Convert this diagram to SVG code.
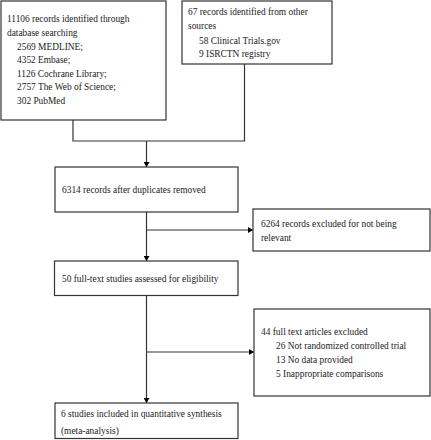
<svg xmlns="http://www.w3.org/2000/svg" width="431" height="440" viewBox="0 0 431 440">
<defs>
<marker id="arr" markerWidth="6" markerHeight="6" refX="5" refY="3" orient="auto" markerUnits="userSpaceOnUse">
<path d="M0,0 L5,3 L0,6 Z" fill="#000"/>
</marker>
<style>
.box{fill:#fff;stroke:#333;stroke-width:1.2}
.t{font-family:"Liberation Serif","Times New Roman",serif;font-size:9.4px;fill:#222}
.ln{fill:none;stroke:#333;stroke-width:1.2}
</style>
</defs>
<rect width="431" height="440" fill="#fff"/>
<g id="connectors">
<path class="ln" d="M73,120 V141 H244.5 V64"/>
<path class="ln" d="M146.5,141 V167" marker-end="url(#arr)"/>
<path class="ln" d="M146.5,212 V261" marker-end="url(#arr)"/>
<path class="ln" d="M146.5,230 H253" marker-end="url(#arr)"/>
<path class="ln" d="M146.5,295.5 V403" marker-end="url(#arr)"/>
<path class="ln" d="M146.5,352 H254" marker-end="url(#arr)"/>
</g>
<g id="db">
<rect class="box" x="1" y="1" width="165" height="119"/>
<text class="t" x="7" y="22">11106 records identified through</text>
<text class="t" x="7" y="36">database searching</text>
<text class="t" x="17" y="49.5">2569 MEDLINE;</text>
<text class="t" x="17" y="63">4352 Embase;</text>
<text class="t" x="17" y="76.5">1126 Cochrane Library;</text>
<text class="t" x="17" y="90">2757 The Web of Science;</text>
<text class="t" x="17" y="103.5">302 PubMed</text>
</g>
<g id="other">
<rect class="box" x="182" y="1" width="150" height="63"/>
<text class="t" x="188" y="15">67 records identified from other</text>
<text class="t" x="188" y="29">sources</text>
<text class="t" x="199" y="44">58 Clinical Trials.gov</text>
<text class="t" x="199" y="57">9 ISRCTN registry</text>
</g>
<g id="dedup">
<rect class="box" x="55" y="167" width="183" height="45"/>
<text class="t" x="62" y="193">6314 records after duplicates removed</text>
</g>
<g id="excl1">
<rect class="box" x="253" y="209" width="177" height="42"/>
<text class="t" x="261" y="227">6264 records excluded for not being</text>
<text class="t" x="261" y="241">relevant</text>
</g>
<g id="fulltext">
<rect class="box" x="54.5" y="261" width="183.5" height="34.5"/>
<text class="t" x="62" y="282">50 full-text studies assessed for eligibility</text>
</g>
<g id="excl2">
<rect class="box" x="254" y="309" width="176" height="87"/>
<text class="t" x="261" y="335">44 full text articles excluded</text>
<text class="t" x="276" y="349">26 Not randomized controlled trial</text>
<text class="t" x="276" y="363">13 No data provided</text>
<text class="t" x="276" y="377">5 Inappropriate comparisons</text>
</g>
<g id="included">
<rect class="box" x="55" y="403" width="183" height="35.5"/>
<text class="t" x="61" y="417">6 studies included in quantitative synthesis</text>
<text class="t" x="61" y="434">(meta-analysis)</text>
</g>
</svg>
